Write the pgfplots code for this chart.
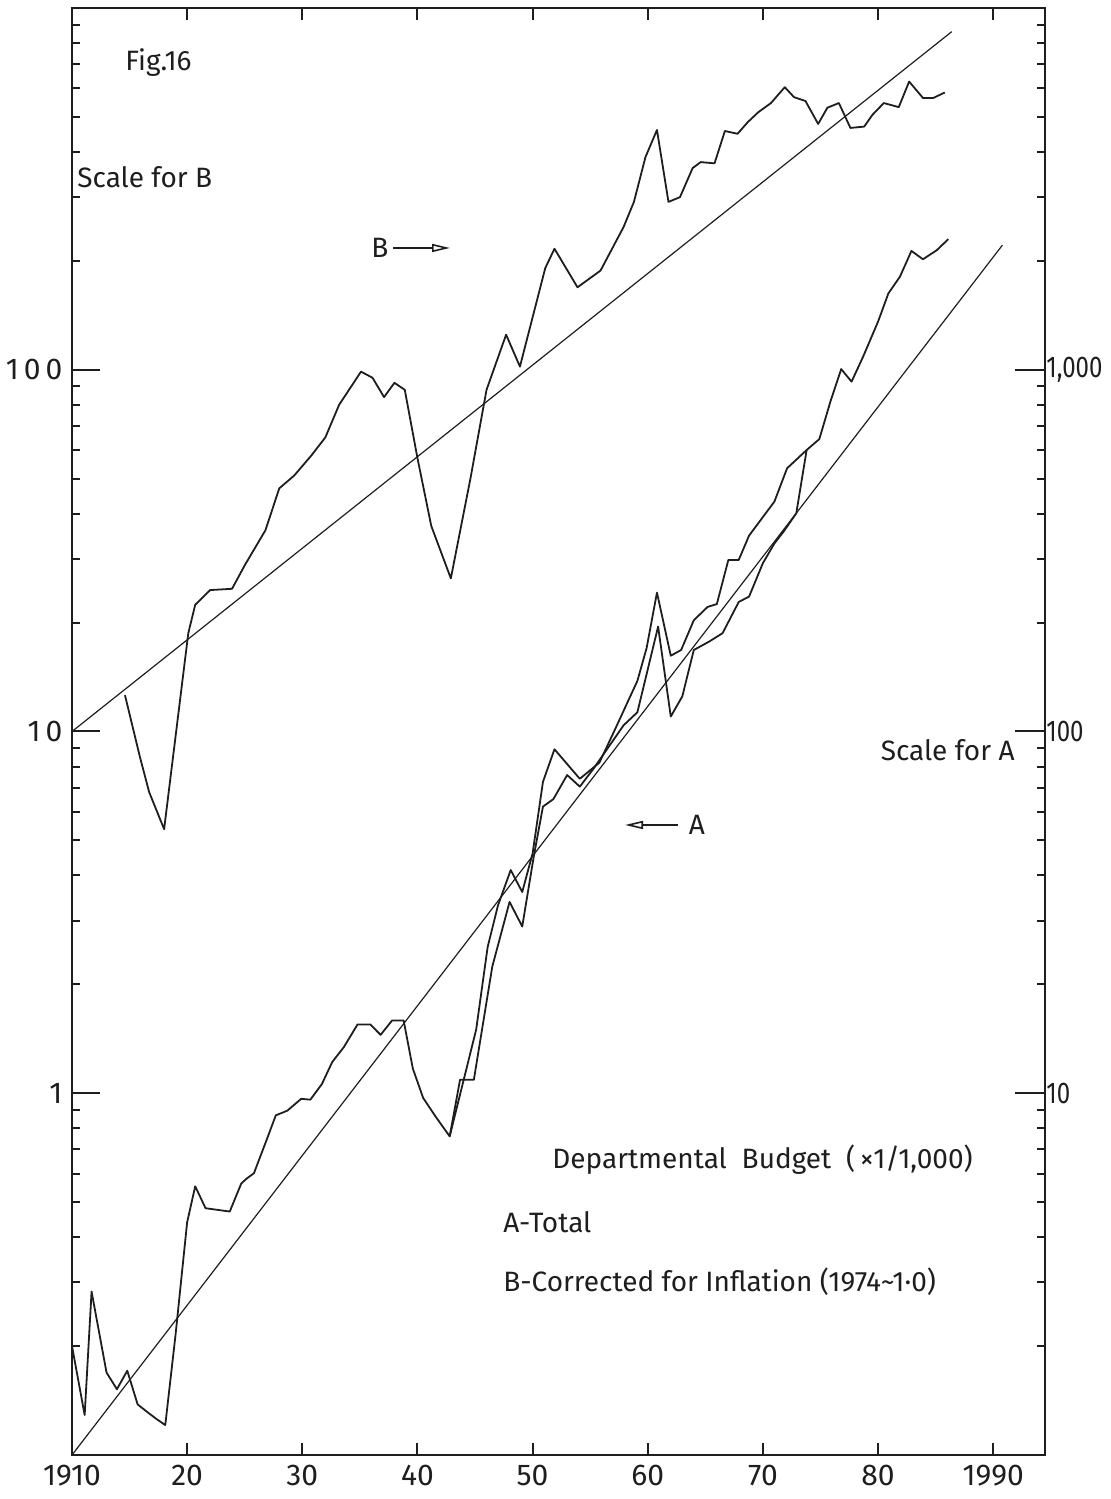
\documentclass[border=0pt]{standalone}
\usepackage{fontspec}
\setmainfont{Fira Sans}
\newfontfamily\narrowfont{Fira Sans}[FakeStretch=0.8]
\usepackage{pgfplots}
\pgfplotsset{compat=1.18}
\usetikzlibrary{arrows.meta}
\definecolor{ink}{HTML}{1E1E1E}

\pgfplotstableread{
year val
1910.0 0.200
1911.1 0.129
1911.7 0.283
1913.0 0.169
1913.9 0.152
1914.8 0.171
1915.7 0.138
1916.6 0.131
1917.3 0.126
1918.1 0.121
1919.0 0.216
1920.0 0.44
1920.7 0.553
1921.6 0.481
1923.7 0.471
1924.7 0.563
1925.2 0.582
1925.8 0.601
1926.9 0.743
1927.7 0.869
1928.7 0.895
1929.9 0.965
1930.7 0.96
1931.7 1.06
1932.6 1.22
1933.6 1.34
1934.8 1.55
1935.9 1.55
1936.8 1.45
1937.8 1.59
1938.8 1.59
1939.6 1.17
1940.5 0.97
1941.6 0.86
1942.8 0.76
1945.1 1.5
1946.1 2.54
1947.0 3.31
1948.1 4.14
1949.1 3.6
1950.0 4.6
1950.9 7.26
1951.9 8.93
1954.1 7.4
1955.8 8.2
1957.2 10.2
1959.1 13.8
1959.9 17.0
1960.8 24.2
1962.0 16.2
1962.9 16.8
1964.0 20.3
1965.2 22.1
1966.0 22.5
1967.0 29.8
1967.9 29.8
1968.8 34.8
1971.0 43.2
1972.1 53.4
1973.8 60
1974.9 64.3
1975.9 82.4
1976.8 100.4
1977.7 92.7
1978.7 108.6
1980.0 135.8
1980.9 162.6
1981.9 180.8
1982.9 213
1983.9 202
1985.1 214
1986.1 229.6
}\seriesAupper

\pgfplotstableread{
year val
1942.8 0.76
1943.7 1.09
1944.9 1.09
1946.5 2.24
1948.0 3.38
1949.1 2.89
1950.1 4.51
1950.9 6.2
1951.8 6.5
1953.0 7.58
1954.1 7.04
1955.3 7.9
1957.9 10.4
1959.1 11.3
1960.9 19.5
1962.0 11.0
1963.0 12.5
1964.0 16.8
1965.3 17.7
1966.5 18.7
1967.9 22.8
1968.8 23.6
1970.0 29.2
1971.0 33.1
1971.8 35.7
1972.9 40.1
1973.8 60
}\seriesAlower

\pgfplotstableread{
year val
1914.6 12.6
1915.9 8.5
1916.7 6.8
1918.0 5.37
1920.1 18.7
1920.7 22.4
1922.0 24.6
1923.9 24.8
1925.0 28.8
1926.8 36
1928.0 47
1929.3 51
1930.8 58
1932.0 65
1933.2 80
1935.1 98.8
1936.1 95
1937.1 84
1938.0 92
1938.9 88
1940.0 57
1941.2 37
1942.9 26.5
1944.6 50
1946.0 88
1947.7 125
1948.9 102
1951.1 191
1951.9 216
1953.9 169
1955.9 188
1957.9 248
1958.8 291
1959.8 387
1960.8 460
1961.8 291
1962.8 300
1963.9 361
1964.6 375
1965.8 372
1966.7 457
1967.8 449
1968.7 484
1969.6 515
1970.7 546
1971.9 604
1972.7 567
1973.7 553
1974.8 478
1975.6 530
1976.6 546
1977.6 466
1978.8 470
1979.5 506
1980.5 546
1981.8 532
1982.7 626
1983.9 564
1984.8 564
1985.8 584
}\seriesB

\begin{document}
\fontsize{14}{16}\selectfont
\begin{tikzpicture}
% main axis: frame, x ticks, data
\begin{axis}[
  at={(0pt,0pt)}, anchor=south west,
  scale only axis, width=486.5pt, height=723.5pt,
  xmin=1910, xmax=1994.5,
  ymode=log, ymin=0.1, ymax=1000,
  xtick={1910,1920,1930,1940,1950,1960,1970,1980,1990},
  xticklabels={1910,20,30,40,50,60,70,80,1990},
  ytick=\empty,
  tick align=inside, major tick length=6pt,
  axis line style={ink, line width=1pt},
  tick style={ink, line width=1pt},
  /pgf/number format/assume math mode=true,
  xticklabel style={font=\fontsize{15}{15}\selectfont, text=ink},
]
\addplot[ink, line width=0.6pt] coordinates {(1910,10) (1986.4,860)};
\addplot[ink, line width=0.6pt] coordinates {(1910,0.1) (1990.8,221)};
\addplot[ink, line width=0.9pt, line join=round] table[x=year,y=val] {\seriesB};
\addplot[ink, line width=0.9pt, line join=round] table[x=year,y=val] {\seriesAupper};
\addplot[ink, line width=0.9pt, line join=round] table[x=year,y=val] {\seriesAlower};
\end{axis}
% left scale (B)
\begin{axis}[
  at={(0pt,0pt)}, anchor=south west,
  scale only axis, width=486.5pt, height=723.5pt,
  xmin=1910, xmax=1994.5,
  ymode=log, ymin=0.1, ymax=1000,
  axis x line=none, axis y line*=left, xtick=\empty,
  ytick={1,10,100}, yticklabels={1,1\,0,1\,0\,0},
  minor ytick={0.2,0.3,0.4,0.5,0.6,0.7,0.8,0.9,2,3,4,5,6,7,8,9,20,30,40,50,60,70,80,90,200,300,400,500,600,700,800,900},
  tick align=inside, major tick length=14pt, minor tick length=4pt,
  axis line style={ink, line width=1pt},
  tick style={ink, line width=1pt},
  /pgf/number format/assume math mode=true,
  yticklabel style={font=\fontsize{15}{15}\selectfont, text=ink},
]
\end{axis}
% right scale (A)
\begin{axis}[
  at={(0pt,0pt)}, anchor=south west,
  scale only axis, width=486.5pt, height=723.5pt,
  xmin=1910, xmax=1994.5,
  ymode=log, ymin=1, ymax=10000,
  axis x line=none, axis y line*=right, xtick=\empty,
  ytick={10,100,1000}, yticklabels={10,100,{1,000}},
  minor ytick={2,3,4,5,6,7,8,9,20,30,40,50,60,70,80,90,200,300,400,500,600,700,800,900,2000,3000,4000,5000,6000,7000,8000,9000},
  tick align=inside, major tick length=15pt, minor tick length=4pt,
  axis line style={ink, line width=1pt},
  tick style={ink, line width=1pt},
  /pgf/number format/assume math mode=true,
  yticklabel style={font=\narrowfont\fontsize{15}{15}\selectfont, text=ink, inner xsep=0.5pt},
]
\end{axis}
% annotations
\begin{scope}[every node/.style={inner sep=0pt, text=ink}]
\node[anchor=west] at (26.5pt,696pt) {Fig.16};
\node[anchor=west] at (2.5pt,639pt) {Scale for B};
\node at (154pt,603.5pt) {B};
\draw[ink, line width=0.8pt, -{Triangle[open, length=9pt, width=4pt]}] (160.5pt,603.5pt) -- (189pt,603.5pt);
\node at (312.5pt,315pt) {A};
\draw[ink, line width=0.8pt, -{Triangle[open, length=9pt, width=4pt]}] (303pt,315pt) -- (276.5pt,315pt);
\node[anchor=east] at (471.5pt,352.5pt) {Scale for A};
\node[anchor=west] at (240pt,147.5pt) {Departmental\ \ Budget\ \ (\,×1/1,000)};
\node[anchor=west] at (215.5pt,116.5pt) {A-Total};
\node[anchor=west] at (215.5pt,86.5pt) {B-Corrected for Inflation (1974\textasciitilde1·0)};
\end{scope}
\pgfresetboundingbox
\path (-36pt,-22pt) rectangle (519pt,727.5pt);
\end{tikzpicture}
\end{document}
